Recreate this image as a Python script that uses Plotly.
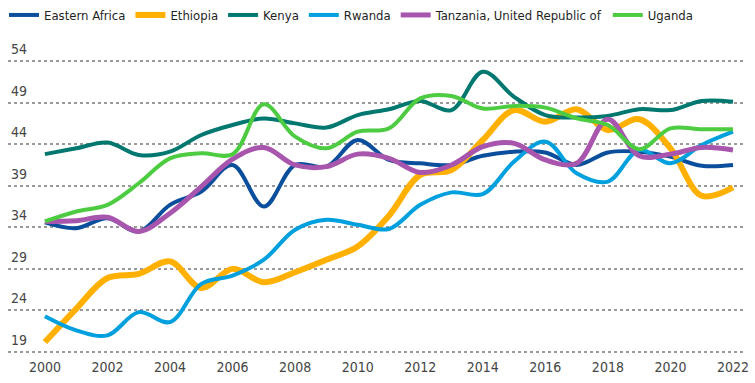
import plotly.graph_objects as go

years = list(range(2000, 2023))

eastern_africa = [34.6, 33.9, 35.1, 33.5, 36.7, 38.3, 41.5, 36.5, 41.5, 41.3, 44.5, 42.1, 41.7, 41.5, 42.6, 43.1, 43.0, 41.5, 43.0, 43.1, 42.5, 41.4, 41.5]
ethiopia = [20.2, 24.2, 27.9, 28.4, 29.9, 26.7, 29.0, 27.4, 28.6, 30.1, 31.7, 35.4, 40.3, 40.9, 44.5, 48.1, 46.7, 48.2, 45.7, 47.0, 43.5, 37.8, 38.8]
kenya = [42.8, 43.5, 44.2, 42.7, 43.1, 45.1, 46.3, 47.1, 46.5, 46.0, 47.5, 48.2, 49.2, 48.1, 52.7, 49.7, 47.5, 47.2, 47.4, 48.2, 48.1, 49.2, 49.1]
rwanda = [23.3, 21.6, 21.0, 23.8, 22.6, 27.2, 28.2, 30.1, 33.7, 34.9, 34.3, 33.8, 36.7, 38.2, 38.0, 41.9, 44.3, 40.5, 39.5, 43.3, 41.7, 43.9, 45.5]
tanzania = [34.7, 34.8, 35.2, 33.5, 35.7, 38.9, 42.2, 43.6, 41.5, 41.3, 42.8, 42.3, 40.6, 41.5, 43.7, 44.1, 42.1, 41.7, 47.0, 42.6, 42.8, 43.6, 43.3]
uganda = [34.7, 35.9, 36.7, 39.3, 42.3, 42.9, 42.8, 48.8, 44.9, 43.5, 45.5, 45.9, 49.5, 49.8, 48.3, 48.6, 48.4, 47.1, 46.3, 43.4, 45.9, 45.8, 45.8]

series = [
    ("Eastern Africa", eastern_africa, "#0b4f9c", 4),
    ("Ethiopia", ethiopia, "#ffb000", 6),
    ("Kenya", kenya, "#00786f", 4),
    ("Rwanda", rwanda, "#00a0de", 4),
    ("Tanzania, United Republic of", tanzania, "#a855ad", 5),
    ("Uganda", uganda, "#4dcc42", 4),
]

y_ticks = [19, 24, 29, 34, 39, 44, 49, 54]
x_ticks = list(range(2000, 2023, 2))

FONT = "DejaVu Sans Condensed, Liberation Sans Narrow, sans-serif"
W, H = 755, 383

fig = go.Figure()
for name, vals, color, w in series:
    fig.add_trace(go.Scatter(
        x=years, y=vals, name=name, mode="lines",
        line=dict(color=color, width=w, shape="spline", smoothing=1.0),
    ))

fig.update_layout(
    width=W, height=H,
    margin=dict(l=0, r=0, t=0, b=0),
    plot_bgcolor="white", paper_bgcolor="white",
    font=dict(family=FONT, size=14, color="#333333"),
    showlegend=True,
    legend=dict(orientation="h", x=4 / W, y=1, yanchor="top", xanchor="left",
                font=dict(size=13, color="#1f1f1f"),
                itemwidth=30, tracegroupgap=0, bgcolor="rgba(0,0,0,0)"),
    xaxis=dict(domain=[8 / W, 743 / W], range=[1998.82, 2022.32],
               tickmode="array", tickvals=x_ticks, automargin=False,
               showgrid=False, zeroline=False, showline=False, ticks="",
               ticklabelstandoff=1,
               tickfont=dict(size=14, color="#454545")),
    yaxis=dict(domain=[27 / H, 345 / H], range=[18.52, 56.77], automargin=False,
               tickmode="array", tickvals=y_ticks,
               showgrid=True, gridcolor="#999999", griddash="dot", gridwidth=2,
               zeroline=False, showline=False, ticks="",
               ticklabelposition="inside", ticklabelshift=-12, ticklabelstandoff=0,
               tickfont=dict(size=14, color="#454545")),
)

fig.write_html("out.html", config={"displayModeBar": False},
               post_script="document.body.style.margin='0';")
